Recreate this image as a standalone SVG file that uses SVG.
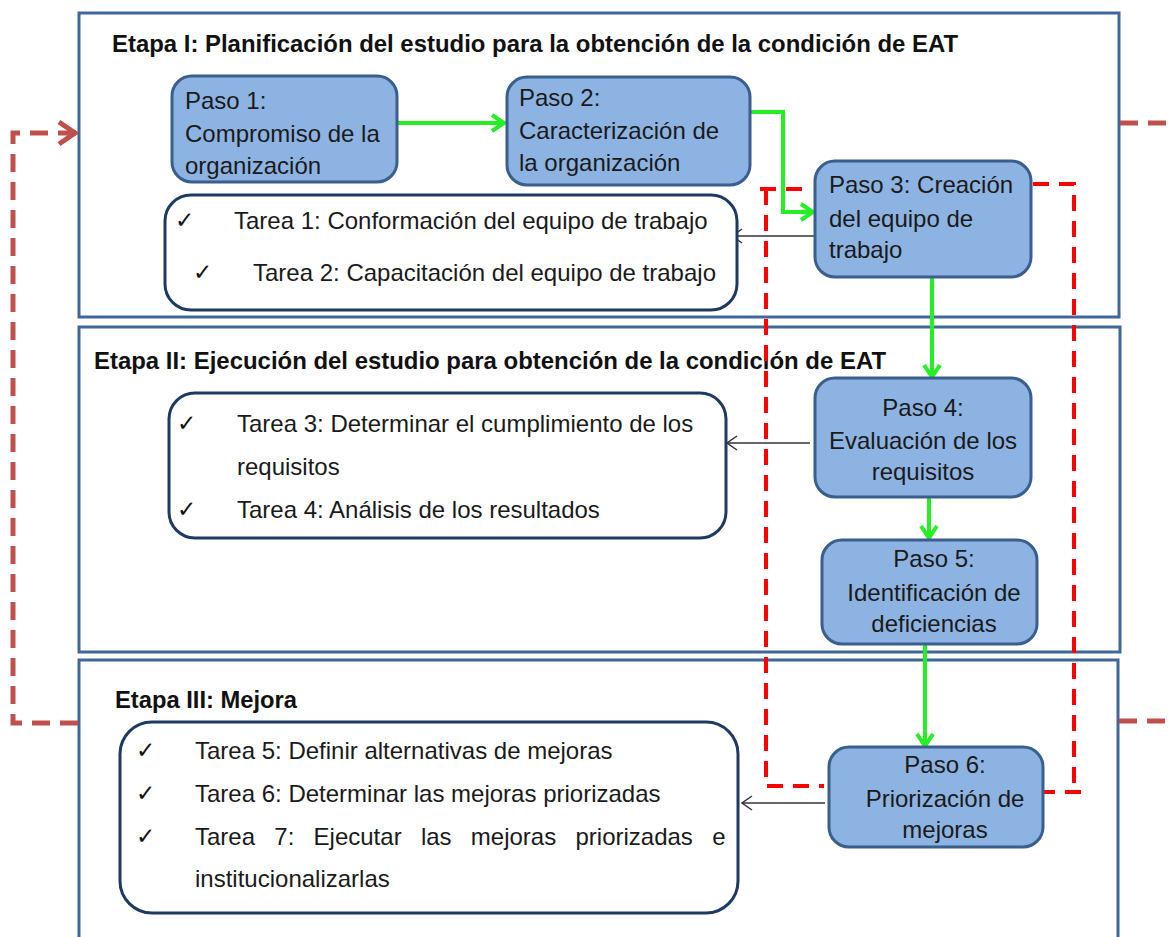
<svg xmlns="http://www.w3.org/2000/svg" width="1174" height="937" viewBox="0 0 1174 937">
<style>
.etapa{fill:#fff;stroke:#41679A;stroke-width:3}
.paso{fill:#8DB3E2;stroke:#3A5F8E;stroke-width:3}
.tarea{fill:#fff;stroke:#1F3A62;stroke-width:3}
.t{font-family:"Liberation Sans",Arial,sans-serif;font-size:24px;fill:#1a1a1a}
.h{font-family:"Liberation Sans",Arial,sans-serif;font-size:24px;font-weight:bold;fill:#111}
.c{font-family:"DejaVu Sans",sans-serif;font-size:23px;fill:#111}
.mid{text-anchor:middle}
.g{fill:none;stroke:#22F022;stroke-width:4}
.k{fill:none;stroke:#333;stroke-width:1.5}
.rd{fill:none;stroke:#FF0000;stroke-width:4;stroke-dasharray:16 10}
.br{fill:none;stroke:#C0504D;stroke-width:5;stroke-dasharray:18 10}
</style>
<defs>
<marker id="ag" viewBox="0 0 16 20" refX="14" refY="10" markerWidth="16" markerHeight="20" markerUnits="userSpaceOnUse" orient="auto">
<path d="M2,2 L14,10 L2,18" fill="none" stroke="#22F022" stroke-width="4"/>
</marker>
<marker id="ak" viewBox="0 0 12 16" refX="11" refY="8" markerWidth="12" markerHeight="16" markerUnits="userSpaceOnUse" orient="auto">
<path d="M1,1 L11,8 L1,15" fill="none" stroke="#333" stroke-width="1.5"/>
</marker>
<marker id="ab" viewBox="0 0 22 26" refX="20" refY="13" markerWidth="22" markerHeight="26" markerUnits="userSpaceOnUse" orient="auto">
<path d="M3,2 L19,13 L3,24" fill="none" stroke="#C0504D" stroke-width="5"/>
</marker>
</defs>
<rect width="1174" height="937" fill="#fff"/>

<g id="etapa1">
<rect class="etapa" x="79" y="13" width="1040" height="304"/>
<text class="h" x="112" y="52" textLength="846" lengthAdjust="spacingAndGlyphs">Etapa I: Planificación del estudio para la obtención de la condición de EAT</text>
</g>
<g id="etapa2">
<rect class="etapa" x="79" y="327" width="1041" height="325"/>
<text class="h" x="94" y="369" textLength="792" lengthAdjust="spacingAndGlyphs">Etapa II: Ejecución del estudio para obtención de la condición de EAT</text>
</g>
<g id="etapa3">
<rect class="etapa" x="79" y="660" width="1039" height="300"/>
<text class="h" x="115" y="708" textLength="182" lengthAdjust="spacingAndGlyphs">Etapa III: Mejora</text>
</g>

<g id="connectors">
<path class="rd" d="M760,189 H812 M766,189 V786 H824"/>
<path class="rd" d="M1033,184 H1074 V792 M1081,792 H1038"/>
<path class="br" d="M78,723 H13 V133 H76" marker-end="url(#ab)"/>
<path class="br" d="M1120,123 H1174"/>
<path class="br" d="M1119,721 H1174"/>
<path class="g" d="M397,123 H504" marker-end="url(#ag)"/>
<path class="g" d="M751,112 H783 V212 H813" marker-end="url(#ag)"/>
<path class="g" d="M932,277 V377" marker-end="url(#ag)"/>
<path class="g" d="M929,497 V538" marker-end="url(#ag)"/>
<path class="g" d="M925,644 V746" marker-end="url(#ag)"/>
<path class="k" d="M815,236 H732" marker-end="url(#ak)"/>
<path class="k" d="M810,443 H727" marker-end="url(#ak)"/>
<path class="k" d="M825,803 H742" marker-end="url(#ak)"/>
</g>

<g id="paso1">
<rect class="paso" x="172" y="76" width="225" height="106" rx="20"/>
<text class="t" x="185" y="109">Paso 1:</text>
<text class="t" x="185" y="142">Compromiso de la</text>
<text class="t" x="185" y="174">organización</text>
</g>
<g id="paso2">
<rect class="paso" x="507" y="77" width="243" height="108" rx="20"/>
<text class="t" x="519" y="106">Paso 2:</text>
<text class="t" x="519" y="139">Caracterización de</text>
<text class="t" x="519" y="171">la organización</text>
</g>
<g id="paso3">
<rect class="paso" x="815" y="161" width="216" height="116" rx="20"/>
<text class="t" x="829" y="193">Paso 3: Creación</text>
<text class="t" x="829" y="227">del equipo de</text>
<text class="t" x="829" y="258">trabajo</text>
</g>
<g id="paso4">
<rect class="paso" x="815" y="378" width="216" height="119" rx="20"/>
<text class="t mid" x="923" y="416">Paso 4:</text>
<text class="t mid" x="923" y="449">Evaluación de los</text>
<text class="t mid" x="923" y="480">requisitos</text>
</g>
<g id="paso5">
<rect class="paso" x="822" y="540" width="215" height="104" rx="20"/>
<text class="t mid" x="934" y="567">Paso 5:</text>
<text class="t mid" x="934" y="601">Identificación de</text>
<text class="t mid" x="934" y="632">deficiencias</text>
</g>
<g id="paso6">
<rect class="paso" x="829" y="747" width="214" height="100" rx="20"/>
<text class="t mid" x="945" y="773">Paso 6:</text>
<text class="t mid" x="945" y="807">Priorización de</text>
<text class="t mid" x="945" y="838">mejoras</text>
</g>

<g id="tareas1">
<rect class="tarea" x="165" y="195" width="572" height="115" rx="26"/>
<text class="c" x="175" y="228">✓</text>
<text class="t" x="234" y="229">Tarea 1: Conformación del equipo de trabajo</text>
<text class="c" x="193" y="280">✓</text>
<text class="t" x="253" y="281">Tarea 2: Capacitación del equipo de trabajo</text>
</g>
<g id="tareas2">
<rect class="tarea" x="169" y="393" width="557" height="145" rx="26"/>
<text class="c" x="177" y="431">✓</text>
<text class="t" x="237" y="432">Tarea 3: Determinar el cumplimiento de los</text>
<text class="t" x="237" y="475">requisitos</text>
<text class="c" x="177" y="517">✓</text>
<text class="t" x="237" y="518">Tarea 4: Análisis de los resultados</text>
</g>
<g id="tareas3">
<rect class="tarea" x="120" y="722" width="618" height="191" rx="32"/>
<text class="c" x="136" y="758">✓</text>
<text class="t" x="195" y="759">Tarea 5: Definir alternativas de mejoras</text>
<text class="c" x="136" y="801">✓</text>
<text class="t" x="195" y="802">Tarea 6: Determinar las mejoras priorizadas</text>
<text class="c" x="136" y="844">✓</text>
<text class="t" x="195" y="845" word-spacing="12.6">Tarea 7: Ejecutar las mejoras priorizadas e</text>
<text class="t" x="195" y="887">institucionalizarlas</text>
</g>
</svg>
